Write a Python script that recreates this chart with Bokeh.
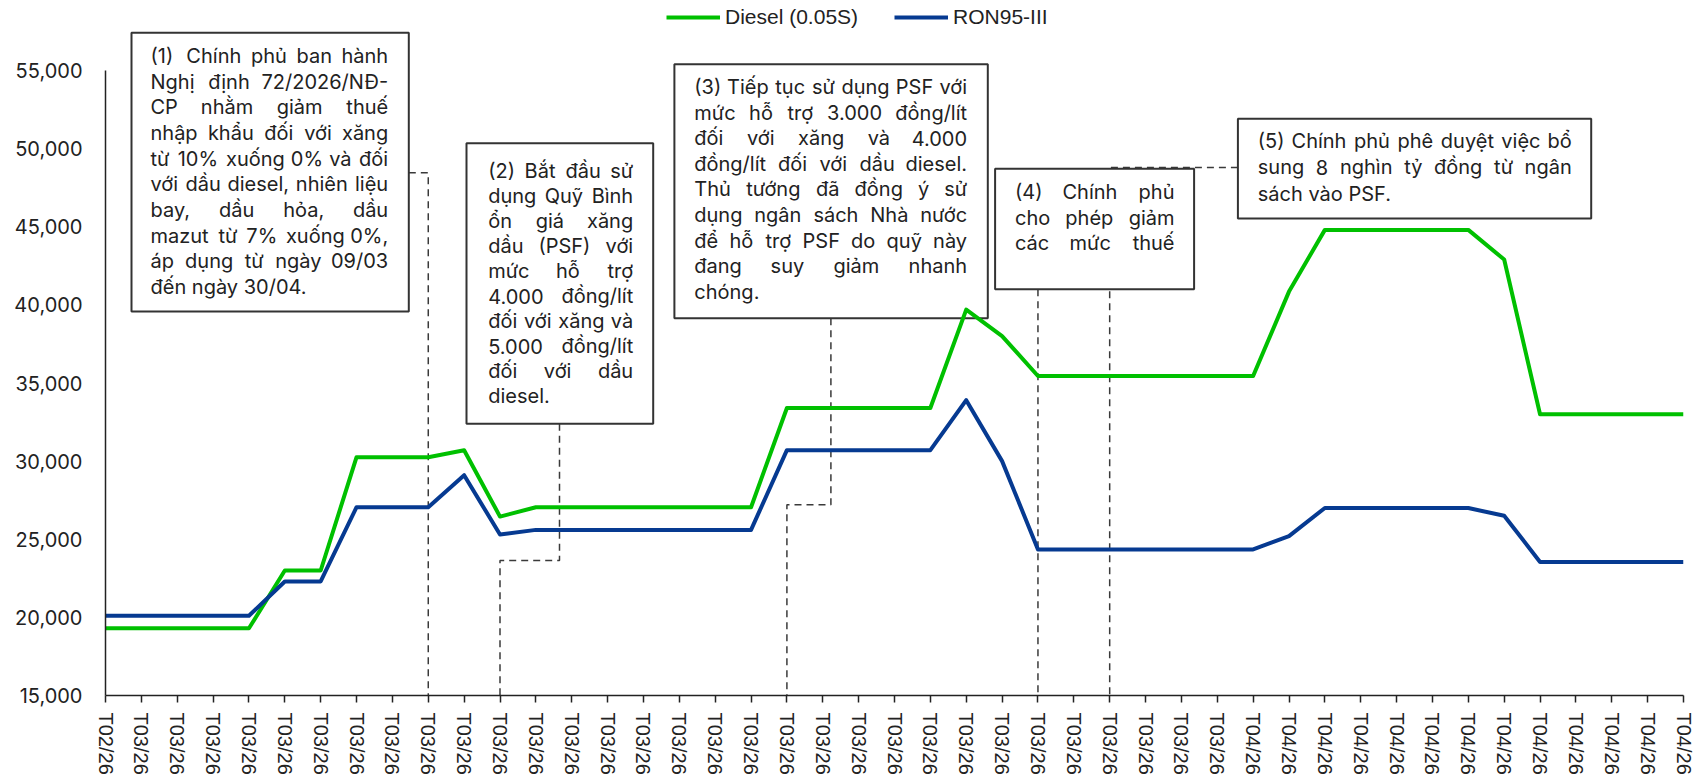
import unicodedata
from bokeh.plotting import figure
from bokeh.models import (Range1d, FixedTicker, NumeralTickFormatter, Legend,
                          LegendItem, ColumnDataSource)
from bokeh.core.properties import value
from bokeh.embed import file_html
from bokeh.resources import INLINE

# ---------------- data ----------------
x_labels = ["T02/26",
            "T03/26", "T03/26", "T03/26", "T03/26", "T03/26", "T03/26", "T03/26", "T03/26",
            "T03/26", "T03/26", "T03/26", "T03/26", "T03/26", "T03/26", "T03/26", "T03/26",
            "T03/26", "T03/26", "T03/26", "T03/26", "T03/26", "T03/26", "T03/26", "T03/26",
            "T03/26", "T03/26", "T03/26", "T03/26", "T03/26", "T03/26", "T03/26",
            "T04/26", "T04/26", "T04/26", "T04/26", "T04/26", "T04/26", "T04/26",
            "T04/26", "T04/26", "T04/26", "T04/26", "T04/26", "T04/26"]

diesel = [19300, 19300, 19300, 19300, 19300, 23000, 23000, 30250, 30250, 30250,
          30700, 26450, 27050, 27050, 27050, 27050, 27050, 27050, 27050, 33400,
          33400, 33400, 33400, 33400, 39700, 38000, 35450, 35450, 35450, 35450,
          35450, 35450, 35450, 40850, 44800, 44800, 44800, 44800, 44800, 42900,
          33000, 33000, 33000, 33000, 33000]

ron95 = [20100, 20100, 20100, 20100, 20100, 22300, 22300, 27050, 27050, 27050,
         29100, 25300, 25600, 25600, 25600, 25600, 25600, 25600, 25600, 30700,
         30700, 30700, 30700, 30700, 33900, 30000, 24350, 24350, 24350, 24350,
         24350, 24350, 24350, 25200, 27000, 27000, 27000, 27000, 27000, 26500,
         23550, 23550, 23550, 23550, 23550]

series_names = ["Diesel (0.05S)", "RON95-III"]
y_ticks = [15000, 20000, 25000, 30000, 35000, 40000, 45000, 50000, 55000]

# event markers: category index where each annotation's connector meets the axis
event_idx = [9, 11, 19, 26, 28]

notes = [
    ["(1) Chính phủ ban hành", "Nghị định 72/2026/NĐ-", "CP nhằm giảm thuế",
     "nhập khẩu đối với xăng", "từ 10% xuống 0% và đối", "với dầu diesel, nhiên liệu",
     "bay, dầu hỏa, dầu", "mazut từ 7% xuống 0%,", "áp dụng từ ngày 09/03",
     "đến ngày 30/04."],
    ["(2) Bắt đầu sử", "dụng Quỹ Bình", "ổn giá xăng", "dầu (PSF) với",
     "mức hỗ trợ", "4.000 đồng/lít", "đối với xăng và", "5.000 đồng/lít",
     "đối với dầu", "diesel."],
    ["(3) Tiếp tục sử dụng PSF với", "mức hỗ trợ 3.000 đồng/lít",
     "đối với xăng và 4.000", "đồng/lít đối với dầu diesel.",
     "Thủ tướng đã đồng ý sử", "dụng ngân sách Nhà nước",
     "để hỗ trợ PSF do quỹ này", "đang suy giảm nhanh", "chóng."],
    ["(4) Chính phủ", "cho phép giảm", "các mức thuế"],
    ["(5) Chính phủ phê duyệt việc bổ", "sung 8 nghìn tỷ đồng từ ngân",
     "sách vào PSF."],
]

# ---------------- layout (page pixels) ----------------
W, H = 1705, 784
FL, FR, FT, FB = 105, 1683, 2, 695
Y_LO, Y_HI_AXIS = 15000, 55000
PX_PER_UNIT = (FB - 70) / (Y_HI_AXIS - Y_LO)
y_top = Y_LO + (FB - FT) / PX_PER_UNIT
NX = len(x_labels) - 1

def dx(px):
    return (px - FL) / (FR - FL) * NX

def dy(py):
    return Y_LO + (FB - py) / PX_PER_UNIT

GREEN = "#00C000"
BLUE = "#063a91"
INK = "#222222"
DASH = "#3a3a3a"

p = figure(width=W, height=H, output_backend="svg", toolbar_location=None,
           x_range=Range1d(0, NX), y_range=Range1d(Y_LO, y_top),
           min_border_left=FL, min_border_right=W - FR,
           min_border_top=FT, min_border_bottom=H - FB)
p.outline_line_color = None
p.xgrid.visible = False
p.ygrid.visible = False
p.background_fill_color = "white"
p.border_fill_color = "white"

# x axis
xa = p.xaxis[0]
xa.ticker = FixedTicker(ticks=list(range(len(x_labels))))
xa.major_label_overrides = {i: lab for i, lab in enumerate(x_labels)}
xa.major_label_orientation = "vertical"
xa.major_label_text_font = "Liberation Sans"
xa.major_label_text_font_size = "20px"
xa.major_label_text_color = INK
xa.major_label_standoff = 10
xa.major_tick_out = 7
xa.major_tick_in = 0
xa.minor_tick_out = 0
xa.minor_tick_in = 0
xa.axis_line_width = 1.5
xa.axis_line_color = INK
xa.major_tick_line_color = INK
xa.major_tick_line_width = 1.5

# y axis
ya = p.yaxis[0]
ya.ticker = FixedTicker(ticks=y_ticks)
ya.formatter = NumeralTickFormatter(format="0,0")
ya.bounds = (Y_LO, Y_HI_AXIS)
ya.major_label_text_font = "Inter"
ya.major_label_text_font_size = "20px"
ya.major_label_text_color = INK
ya.major_label_standoff = 23
ya.major_tick_out = 0
ya.major_tick_in = 0
ya.minor_tick_out = 0
ya.minor_tick_in = 0
ya.axis_line_width = 1.5
ya.axis_line_color = INK

# ---------------- annotation boxes (page px geometry) ----------------
boxes = [
    dict(l=131, r=408.3, t=32.3, b=311, tl=150, tr=387.7, y0=55.5, step=25.67, justify_last=False),
    dict(l=466, r=652.7, t=142.7, b=423.3, tl=487.7, tr=632.7, y0=170.5, step=25.0, justify_last=False),
    dict(l=673.9, r=987.3, t=63.7, b=317.7, tl=693.8, tr=966.6, y0=86.5, step=25.6, justify_last=False),
    dict(l=994.6, r=1193.6, t=168.3, b=288.7, tl=1014.5, tr=1174, y0=191.5, step=25.65, justify_last=True),
    dict(l=1237.4, r=1590.7, t=118.3, b=218, tl=1257.3, tr=1571.2, y0=140.5, step=26.3, justify_last=False),
]

# connectors (dashed), drawn first so boxes sit on top
def conn(xs, ys):
    p.line(xs, ys, line_color=DASH, line_width=1.5, line_dash="7 5")

conn([dx(408.3), event_idx[0], event_idx[0]], [dy(172.3), dy(172.3), Y_LO])
conn([dx(559), dx(559), event_idx[1], event_idx[1]], [dy(423.3), dy(560), dy(560), Y_LO])
conn([dx(830.4), dx(830.4), event_idx[2], event_idx[2]], [dy(317.7), dy(504.3), dy(504.3), Y_LO])
conn([event_idx[3], event_idx[3]], [dy(288.7), Y_LO])
conn([dx(1237.4), event_idx[4], event_idx[4]], [dy(167), dy(167), Y_LO])

p.quad(left=[dx(b["l"]) for b in boxes], right=[dx(b["r"]) for b in boxes],
       top=[dy(b["t"]) for b in boxes], bottom=[dy(b["b"]) for b in boxes],
       fill_color="white", line_color="#333333", line_width=2)

# ---------------- series ----------------
src = ColumnDataSource(dict(x=list(range(len(x_labels))), diesel=diesel, ron95=ron95))
r_d = p.line("x", "diesel", source=src, line_color=GREEN, line_width=4, line_join="round")
r_r = p.line("x", "ron95", source=src, line_color=BLUE, line_width=4, line_join="round")

# ---------------- text with approximate justification ----------------
WID = {' ': .28, '.': .26, ',': .26, '(': .35, ')': .35, '/': .36, '-': .42, '%': .82, ':': .26,
       'a': .55, 'b': .60, 'c': .55, 'd': .60, 'e': .57, 'f': .36, 'g': .60, 'h': .59, 'i': .24,
       'j': .24, 'k': .53, 'l': .24, 'm': .88, 'n': .59, 'o': .59, 'p': .60, 'q': .60, 'r': .37,
       's': .52, 't': .35, 'u': .59, 'v': .54, 'w': .80, 'x': .53, 'y': .54, 'z': .52,
       'A': .68, 'B': .64, 'C': .71, 'D': .70, 'E': .58, 'F': .56, 'G': .72, 'H': .72, 'I': .26,
       'N': .73, 'P': .62, 'Q': .74, 'S': .62, 'T': .62, 'Đ': .72}
FS = 20

def ew(word):
    tot = 0.0
    for ch in word:
        if ch in WID:
            tot += WID[ch]
            continue
        base = unicodedata.normalize("NFD", ch)[0]
        if ch == 'đ':
            base = 'd'
        tot += WID.get(base, 0.60)
    return tot * FS

tx, ty, tt, ta = [], [], [], []
for b, lines in zip(boxes, notes):
    for k, line in enumerate(lines):
        yy = dy(b["y0"] + k * b["step"])
        last = (k == len(lines) - 1)
        words = line.split(" ")
        if (last and not b["justify_last"]) or len(words) == 1:
            tx.append(dx(b["tl"])); ty.append(yy); tt.append(line); ta.append("left")
            continue
        widths = [ew(w) for w in words]
        gap = (b["tr"] - b["tl"] - sum(widths)) / (len(words) - 1)
        pos = b["tl"]
        for j, (w, wd) in enumerate(zip(words, widths)):
            if j == 0:
                tx.append(dx(b["tl"])); ta.append("left")
            elif j == len(words) - 1:
                tx.append(dx(b["tr"])); ta.append("right")
            else:
                tx.append(dx(pos + wd / 2)); ta.append("center")
            ty.append(yy); tt.append(w)
            pos += wd + gap

p.text(x=tx, y=ty, text=tt, text_align=ta, text_baseline="middle",
       text_font=value("Inter"), text_font_size="20px", text_color=INK)

# ---------------- legend ----------------
legend = Legend(items=[LegendItem(label=series_names[0], renderers=[r_d]),
                       LegendItem(label=series_names[1], renderers=[r_r])],
                orientation="horizontal", location=(666 - FL, FB - 17.3 - 12),
                label_text_font="Liberation Sans", label_text_font_size="21px",
                label_text_color=INK, glyph_width=54, glyph_height=24, label_height=24,
                label_standoff=5, spacing=36, padding=0, margin=0,
                border_line_color=None, background_fill_alpha=0)
p.add_layout(legend, "center")

open("out.html", "w").write(file_html(p, INLINE))
